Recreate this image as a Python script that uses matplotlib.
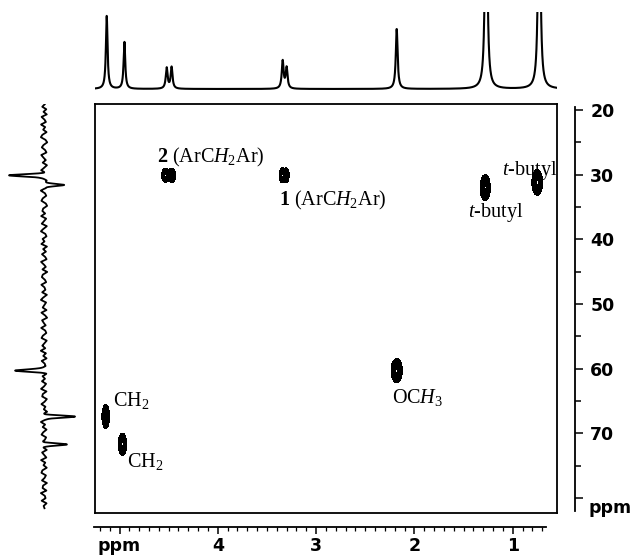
import numpy as np
import matplotlib
matplotlib.use('Agg')
import matplotlib.pyplot as plt

plt.rcParams['mathtext.fontset'] = 'custom'
plt.rcParams['mathtext.rm'] = 'Liberation Serif'
plt.rcParams['mathtext.it'] = 'Liberation Serif:italic'
plt.rcParams['mathtext.bf'] = 'Liberation Serif:bold'

# ---------------- data ----------------
# 1H projection (top trace): shift (ppm), relative height, half-width (ppm)
h_shift = [5.13, 4.95, 4.52, 4.47, 3.34, 3.30, 2.18, 1.27, 0.73]
h_height = [0.95, 0.61, 0.27, 0.28, 0.36, 0.27, 0.78, 4.0, 4.0]
h_hwhm = [0.010, 0.010, 0.011, 0.011, 0.011, 0.011, 0.011, 0.011, 0.011]

# 13C projection (left trace): shift (ppm), signed height (px)
c_shift = [30.1, 31.6, 60.3, 67.4, 71.7]
c_height = [-34, 22, -28, 31, 22]
c_noise = [
    0.6, -1.4, 1.8, -0.4, 2.2, -1.9, 0.3, 1.5, -2.3, 0.9,
    -0.7, 2.0, -1.2, -2.4, 1.1, 2.5, -0.3, -1.7, 0.8, 1.9,
    -2.1, -0.5, 1.4, -1.0, 2.3, 0.2, -2.2, 1.6, -0.8, -1.5,
    2.1, 0.5, -1.9, 1.2, -2.5, 0.7, 1.8, -0.9, -2.0, 1.3,
    2.4, -0.6, -1.3, 0.9, -2.2, 1.7, 0.1, -1.8, 2.2, -0.4,
    -2.4, 1.0, 1.9, -1.1, 0.4, -2.0, 2.3, -0.7, 1.5, -1.6,
    0.8, 2.0, -2.3, -0.2, 1.4, -1.2, 2.5, -0.9, -1.7, 0.6,
    1.7, -2.1, 0.3, 1.1, -1.4, 2.2, -0.5, -2.4, 1.6, 0.2,
    -1.0, 1.9, -2.0, 0.7, 2.4, -1.5, -0.3, 1.3, -2.2, 0.9,
    1.8, -0.8, -1.9, 2.1, 0.4, -1.3, 1.0, -2.5, 1.5, -0.6,
    2.0, -1.8, 0.5, 1.2, -2.1, -0.4, 2.3, -1.1, 0.8, -1.6,
    1.6, 0.1, -2.3, 1.9, -0.9, -1.4, 2.2, 0.6, -2.0, 1.1,
    -0.2, 2.4, -1.7, 0.3, 1.4, -2.4, 0.9, -1.0, 2.0, -0.5,
    -1.9, 1.7, 0.7, -2.2, 1.3, -0.8, 2.1, -1.5, 0.2, 1.8,
    -2.3, 1.0, -0.4, 2.2, -1.2, -2.0, 1.5, 0.5, -1.6, 2.3,
    -0.7, -1.1, 1.9, -2.4, 0.6, 1.2, -1.8, 2.0, -0.3, 0.4,
]

# 2D cross peaks: 1H shift, 13C shift, full width (1H, ppm), full height (13C, ppm)
xp_h = [5.14, 4.97, 4.532, 4.468, 3.345, 3.305, 2.18, 1.28, 0.75]
xp_c = [67.4, 71.7, 30.1, 30.1, 30.1, 30.1, 60.3, 32.0, 31.2]
xp_wh = [0.078, 0.085, 0.080, 0.080, 0.062, 0.062, 0.115, 0.105, 0.11]
xp_wc = [3.7, 3.5, 2.2, 2.2, 2.3, 2.3, 3.7, 4.0, 4.0]

# labels
tick_c = [20, 30, 40, 50, 60, 70, 80]
tick_c_lab = ['20', '30', '40', '50', '60', '70', '']
tick_h = [5, 4, 3, 2, 1]
tick_h_lab = ['ppm', '4', '3', '2', '1']

# ---------------- layout ----------------
W, H = 632, 557
fig = plt.figure(figsize=(W / 100, H / 100), dpi=100)


def px_axes(x0, y0, x1, y1):
    return fig.add_axes([x0 / W, 1 - y1 / H, (x1 - x0) / W, (y1 - y0) / H])


def hppm(x):
    return (611.0 - x) / 98.3


def cppm(y):
    return 20.0 + (y - 110.0) / 6.467


XL = (hppm(95), hppm(557))
YL = (cppm(513), cppm(104))

# main 2D box
ax = px_axes(95, 104, 557, 513)
ax.set_xlim(*XL)
ax.set_ylim(*YL)
ax.set_xticks([])
ax.set_yticks([])
for s in ax.spines.values():
    s.set_linewidth(1.3)

gx = np.linspace(XL[0], XL[1], 1500)
gy = np.linspace(YL[1], YL[0], 1100)
GX, GY = np.meshgrid(gx, gy)
Z = np.zeros_like(GX)
for h, c, wh, wc in zip(xp_h, xp_c, xp_wh, xp_wc):
    sx = wh / 2 / 2.06
    sy = wc / 2 / 2.06
    Z += np.exp(-0.5 * ((GX - h) / sx) ** 2 - 0.5 * ((GY - c) / sy) ** 2)
ax.contourf(GX, GY, Z, levels=[0.12, 0.93], colors='black')

lab_kw = dict(fontsize=14.5, family='Liberation Serif', ha='left', va='baseline')
ax.text(hppm(157), cppm(162), r'$\mathbf{2}$ (ArC$\mathit{H}_2$Ar)', **lab_kw)
ax.text(hppm(279), cppm(205), r'$\mathbf{1}$ (ArC$\mathit{H}_2$Ar)', **lab_kw)
ax.text(hppm(502), cppm(175), r'$\mathit{t}$-butyl', **lab_kw)
ax.text(hppm(468), cppm(217), r'$\mathit{t}$-butyl', **lab_kw)
ax.text(hppm(113), cppm(406), r'CH$_2$', **lab_kw)
ax.text(hppm(127), cppm(467), r'CH$_2$', **lab_kw)
ax.text(hppm(392), cppm(403), r'OC$\mathit{H}_3$', **lab_kw)

# top 1H trace
axt = px_axes(95, 12, 557, 92)
axt.set_xlim(*XL)
axt.set_ylim(-3 / 77, 1.0)
axt.axis('off')
hx = np.linspace(XL[0], XL[1], 4000)
spec = np.zeros_like(hx)
for p, a, g in zip(h_shift, h_height, h_hwhm):
    spec += a * g ** 2 / ((hx - p) ** 2 + g ** 2)
axt.plot(hx, spec, color='black', lw=1.5)

# left 13C trace
axl = px_axes(0, 104, 90, 513)
axl.set_ylim(*YL)
axl.set_xlim(-44, 46)
axl.axis('off')
cy = np.arange(19.1, 81.6, 0.02)
trace = 1.3 * np.interp(cy, np.linspace(19.1, 81.6, len(c_noise)), c_noise)
for p, a in zip(c_shift, c_height):
    trace += a * np.exp(-0.5 * ((cy - p) / 0.17) ** 2)
axl.plot(trace, cy, color='black', lw=1.3)

# right 13C ruler
axr = px_axes(560, 104, 575, 513)
axr.set_ylim(*YL)
axr.set_xticks([])
for k in ['left', 'top', 'bottom']:
    axr.spines[k].set_visible(False)
axr.spines['right'].set_bounds(19.5, 82.0)
axr.spines['right'].set_linewidth(1.3)
axr.patch.set_visible(False)
axr.yaxis.tick_right()
axr.set_yticks(tick_c, tick_c_lab, fontweight='bold', fontsize=12.5,
               family='DejaVu Sans')
axr.set_yticks(np.arange(25, 80, 10), minor=True)
axr.tick_params(axis='y', which='major', direction='out', length=6, width=1.1, pad=5)
axr.tick_params(axis='y', which='minor', direction='out', length=4, width=1.1)
fig.text(588 / W, 1 - 508 / H, 'ppm', ha='left', va='center',
         fontweight='bold', fontsize=12.5, family='DejaVu Sans')

# bottom 1H ruler
axb = px_axes(95, 520, 557, 527)
axb.set_xlim(*XL)
axb.set_yticks([])
for k in ['left', 'top', 'right']:
    axb.spines[k].set_visible(False)
axb.spines['bottom'].set_bounds(5.26, 0.66)
axb.spines['bottom'].set_linewidth(1.3)
axb.patch.set_visible(False)
axb.set_xticks(tick_h, tick_h_lab, fontweight='bold', fontsize=12.5,
               family='DejaVu Sans')
axb.set_xticks(np.arange(0.7, 5.25, 0.1), minor=True)
axb.tick_params(axis='x', which='major', direction='out', length=5, width=1.1, pad=2)
axb.tick_params(axis='x', which='minor', direction='out', length=3, width=0.9)

fig.savefig('out.png', dpi=100)
